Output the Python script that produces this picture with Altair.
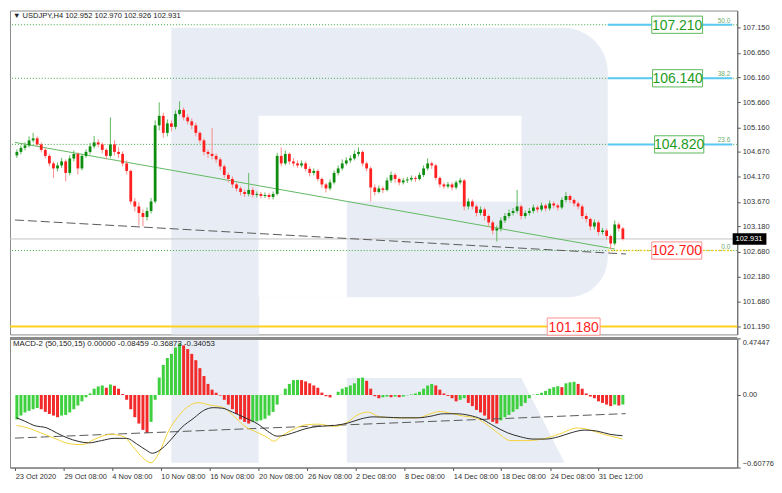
import json
import altair as alt
import pandas as pd

# ---------------- data ----------------
first_open = 104.60
closes = [
    104.67, 104.75, 104.80, 104.90, 104.94, 104.82, 104.71, 104.59, 104.44, 104.34,
    104.40, 104.48, 104.25, 104.54, 104.63, 104.34, 104.59, 104.67, 104.78, 104.86,
    104.82, 104.71, 104.59, 104.82, 104.67, 104.63, 104.44, 104.29, 103.68, 103.58,
    103.45, 103.37, 103.49, 103.68, 105.20, 105.39, 105.05, 105.24, 105.17, 105.43,
    105.51, 105.36, 105.28, 105.20, 105.05, 104.90, 104.67, 104.63, 104.59, 104.52,
    104.38, 104.21, 104.13, 104.02, 103.94, 103.87, 103.83, 103.91, 103.81, 103.83,
    103.79, 103.81, 103.77, 103.83, 104.59, 104.44, 104.63, 104.48, 104.44, 104.40,
    104.44, 104.33, 104.25, 104.29, 104.13, 104.02, 103.94, 104.06, 104.25, 104.34,
    104.44, 104.50, 104.54, 104.63, 104.67, 104.44, 104.34, 103.96, 103.87, 103.94,
    103.91, 104.10, 104.21, 104.13, 104.06, 104.10, 104.12, 104.15, 104.13, 104.21,
    104.34, 104.44, 104.40, 104.15, 104.02, 103.98, 104.02, 103.96, 104.06, 104.10,
    103.58, 103.68, 103.58, 103.45, 103.52, 103.39, 103.26, 103.10, 103.14, 103.30,
    103.39, 103.45, 103.49, 103.58, 103.39, 103.45, 103.49, 103.56, 103.52, 103.60,
    103.54, 103.64, 103.60, 103.56, 103.71, 103.79, 103.71, 103.64, 103.58, 103.39,
    103.33, 103.18, 103.26, 103.07, 103.10, 102.99, 102.84, 103.22, 103.14, 102.931,
]
highs = [
    104.72, 104.80, 104.86, 104.98, 105.05, 104.98, 104.86, 104.75, 104.63, 104.48,
    104.46, 104.55, 104.52, 104.60, 104.70, 104.66, 104.63, 104.72, 104.85, 104.99,
    104.92, 104.86, 104.74, 105.36, 104.90, 104.76, 104.68, 104.50, 104.32, 103.75,
    103.66, 103.52, 103.56, 103.75, 105.30, 105.66, 105.45, 105.32, 105.30, 105.50,
    105.68, 105.56, 105.42, 105.34, 105.25, 105.08, 104.94, 104.72, 105.15, 104.64,
    104.56, 104.42, 104.26, 104.18, 104.06, 103.98, 103.92, 104.25, 103.96, 103.88,
    103.87, 103.86, 103.85, 103.88, 104.65, 104.76, 104.70, 104.66, 104.55, 104.50,
    104.50, 104.48, 104.38, 104.34, 104.32, 104.16, 104.05, 104.12, 104.30, 104.40,
    104.52, 104.56, 104.60, 104.70, 104.76, 104.70, 104.48, 104.38, 104.02, 104.00,
    103.98, 104.16, 104.28, 104.25, 104.16, 104.15, 104.17, 104.20, 104.19, 104.26,
    104.40, 104.54, 104.48, 104.43, 104.18, 104.06, 104.07, 104.06, 104.10, 104.15,
    104.13, 103.74, 103.72, 103.62, 103.58, 103.56, 103.42, 103.30, 103.20, 103.36,
    103.45, 103.52, 103.55, 103.91, 103.62, 103.50, 103.55, 103.62, 103.60, 103.66,
    103.64, 103.70, 103.68, 103.64, 103.76, 103.87, 103.82, 103.74, 103.68, 103.62,
    103.44, 103.36, 103.32, 103.30, 103.15, 103.14, 103.02, 103.30, 103.26, 103.17,
]
lows = [
    104.55, 104.62, 104.70, 104.76, 104.86, 104.78, 104.66, 104.54, 104.38, 104.15,
    104.28, 104.35, 104.08, 104.20, 104.48, 104.22, 104.30, 104.55, 104.62, 104.74,
    104.76, 104.64, 104.52, 104.55, 104.60, 104.55, 104.38, 104.22, 103.62, 103.48,
    103.20, 103.18, 103.30, 103.44, 103.64, 105.10, 104.95, 104.98, 105.08, 105.12,
    105.40, 105.30, 105.22, 105.12, 104.98, 104.84, 104.60, 104.55, 104.52, 104.45,
    104.30, 104.15, 104.06, 103.95, 103.88, 103.80, 103.77, 103.78, 103.76, 103.76,
    103.74, 103.75, 103.72, 103.72, 103.80, 104.38, 104.40, 104.42, 104.38, 104.35,
    104.36, 104.28, 104.18, 104.20, 104.08, 103.95, 103.86, 103.90, 104.02, 104.20,
    104.30, 104.40, 104.45, 104.50, 104.58, 104.38, 104.28, 103.68, 103.80, 103.84,
    103.85, 103.88, 104.05, 104.06, 104.00, 104.02, 104.05, 104.08, 104.07, 104.10,
    104.17, 104.30, 104.33, 104.10, 103.96, 103.93, 103.94, 103.90, 103.92, 104.02,
    103.50, 103.52, 103.52, 103.38, 103.40, 103.30, 103.18, 103.02, 102.88, 103.08,
    103.25, 103.34, 103.40, 103.44, 103.32, 103.34, 103.40, 103.44, 103.46, 103.48,
    103.48, 103.50, 103.54, 103.50, 103.52, 103.66, 103.65, 103.58, 103.52, 103.33,
    103.26, 103.10, 103.12, 103.00, 103.02, 102.92, 102.72, 102.80, 103.08, 102.90,
]
macd_hist = [
    -0.204, -0.172, -0.146, -0.133, -0.119, -0.109, -0.119, -0.141, -0.159, -0.172,
    -0.186, -0.172, -0.167, -0.146, -0.119, -0.088, -0.053, -0.019, 0.013, 0.053,
    0.072, 0.080, 0.061, 0.088, 0.077, 0.053, 0.008, -0.040, -0.119, -0.186,
    -0.239, -0.292, -0.318, -0.225, -0.040, 0.146, 0.252, 0.310, 0.345, 0.398,
    0.432, 0.416, 0.385, 0.345, 0.292, 0.225, 0.159, 0.093, 0.045, 0.019,
    -0.005, -0.040, -0.080, -0.119, -0.159, -0.204, -0.225, -0.239, -0.225, -0.220,
    -0.212, -0.199, -0.172, -0.141, -0.080, 0.002, 0.053, 0.093, 0.125, 0.127,
    0.125, 0.114, 0.098, 0.080, 0.061, 0.020, -0.010, -0.020, 0.000, 0.027,
    0.053, 0.066, 0.080, 0.098, 0.141, 0.146, 0.119, 0.053, -0.010, -0.027,
    -0.019, -0.013, -0.019, -0.013, -0.019, -0.013, -0.003, 0.005, 0.013, 0.027,
    0.053, 0.080, 0.093, 0.080, 0.045, 0.013, -0.008, -0.027, -0.053, -0.040,
    -0.027, -0.066, -0.093, -0.125, -0.146, -0.172, -0.204, -0.225, -0.239, -0.212,
    -0.186, -0.167, -0.141, -0.119, -0.093, -0.066, -0.027, 0.003, 0.008, 0.019,
    0.034, 0.053, 0.066, 0.074, 0.066, 0.098, 0.106, 0.111, 0.093, 0.053,
    0.013, -0.013, -0.027, -0.053, -0.066, -0.080, -0.093, -0.080, -0.088, -0.080,
]
macd_black_idx = [-0.1, 1.9, 4.2, 7.4, 9.7, 12.1, 15.3, 17.6, 20.8, 23.9, 27.0, 29.4, 31.8,
                  33.3, 35.7, 38.0, 40.4, 43.6, 45.9, 48.3, 50.6, 53.0, 56.1, 59.3, 61.6, 64.0,
                  66.3, 68.7, 71.1, 74.2, 78.1, 81.3, 84.4, 87.6, 90.7, 94.6, 98.6, 101.7,
                  104.9, 108.0, 111.2, 114.3, 117.5, 120.6, 123.8, 126.9, 130.0, 133.2, 136.3,
                  139.5, 142.6, 145.8, 148.9]
macd_black_val = [-0.191, -0.218, -0.255, -0.276, -0.316, -0.355, -0.390, -0.401, -0.382,
                  -0.363, -0.363, -0.408, -0.462, -0.488, -0.448, -0.369, -0.276, -0.191,
                  -0.130, -0.106, -0.111, -0.143, -0.191, -0.244, -0.302, -0.345, -0.334,
                  -0.308, -0.281, -0.263, -0.255, -0.236, -0.202, -0.183, -0.186, -0.191,
                  -0.191, -0.178, -0.157, -0.157, -0.170, -0.202, -0.263, -0.316, -0.350,
                  -0.369, -0.369, -0.350, -0.316, -0.294, -0.302, -0.329, -0.341]
macd_yellow_idx = [-0.1, 2.7, 5.8, 9.7, 12.9, 16.0, 19.2, 23.1, 26.3, 28.6, 31.0, 33.0, 34.9,
                   37.3, 39.6, 42.4, 44.7, 47.5, 50.6, 53.8, 56.1, 59.3, 61.6, 63.2, 64.8, 67.9,
                   71.1, 74.2, 78.1, 81.3, 83.6, 86.4, 89.2, 93.1, 98.6, 101.7, 104.1, 107.2,
                   109.6, 112.7, 115.1, 118.2, 121.4, 125.3, 129.2, 133.2, 137.9, 141.0, 144.2,
                   147.3, 148.9]
macd_yellow_val = [-0.255, -0.276, -0.316, -0.369, -0.408, -0.416, -0.369, -0.329, -0.350,
                   -0.435, -0.528, -0.568, -0.488, -0.302, -0.182, -0.090, -0.064, -0.085,
                   -0.103, -0.191, -0.263, -0.316, -0.355, -0.387, -0.350, -0.289, -0.249,
                   -0.244, -0.263, -0.228, -0.170, -0.143, -0.183, -0.191, -0.191, -0.157,
                   -0.138, -0.157, -0.175, -0.191, -0.236, -0.316, -0.382, -0.382, -0.369,
                   -0.329, -0.276, -0.294, -0.329, -0.355, -0.369]
macd_trend_idx = [-0.47, 149.7]
macd_trend_val = [-0.361, -0.156]

trend_green_idx = [-0.47, 147.0]
trend_green_price = [104.86, 102.73]
trend_gray_idx = [-0.47, 149.8]
trend_gray_price = [103.31, 102.63]

fib_levels = [107.21, 106.14, 104.82, 102.70]
fib_names = ["50.0", "38.2", "23.6", "0.0"]
support_level = 101.18
last_price = 102.931

box_labels = ["107.210", "106.140", "104.820", "102.700", "101.180"]
box_prices = [107.21, 106.14, 104.82, 102.70, 101.18]
box_kind = ["green", "green", "green", "red", "red"]

price_ticks = [107.15, 106.65, 106.16, 105.66, 105.16, 104.67, 104.17, 103.67, 103.18,
               102.68, 102.18, 101.68, 101.19]
macd_ticks = [0.47447, 0.0, -0.60776]
date_tick_idx = [-0.4, 11.56, 23.35, 35.38, 47.41, 59.43, 71.46, 83.25, 95.28, 107.31,
                 119.10, 131.13, 142.92]
date_tick_labels = ["23 Oct 2020", "29 Oct 08:00", "4 Nov 08:00", "10 Nov 08:00",
                    "16 Nov 08:00", "20 Nov 08:00", "26 Nov 08:00", "2 Dec 08:00",
                    "8 Dec 08:00", "14 Dec 08:00", "18 Dec 08:00", "24 Dec 08:00",
                    "31 Dec 12:00"]

header_text = "\u25bc USDJPY,H4  102.952 102.970 102.926 102.931"
macd_text = "MACD-2 (50,150,15) 0.00000 -0.08459 -0.36873 -0.34053"

# ---------------- layout / style ----------------
FONT = "Liberation Sans, Arial, sans-serif"
W, H1, H2 = 732, 326, 130
XMIN, XMAX = -0.47, 175.9
P_DOM = [101.024, 107.494]
M_DOM = [-0.60776, 0.47447]
WM = "#e8edf5"

xs = alt.Scale(domain=[XMIN, XMAX], nice=False, zero=False)
ps = alt.Scale(domain=P_DOM, nice=False, zero=False)
ms = alt.Scale(domain=M_DOM, nice=False, zero=False)

label_expr = f"{json.dumps(date_tick_labels)}[indexof({json.dumps(date_tick_idx)}, datum.value)]"
x_axis = alt.Axis(orient="bottom", values=date_tick_idx, labelExpr=label_expr, title=None,
                  grid=False, tickSize=3, labelAlign="left", labelPadding=2, labelFlush=False,
                  labelOverlap=False, labelBound=False, labelFontSize=7.5)
price_axis = alt.Axis(orient="right", values=price_ticks, format=".3f", title=None, grid=False,
                      tickSize=3, labelPadding=2, labelFontSize=7.5, labelOverlap=False)
macd_axis = alt.Axis(orient="right", values=macd_ticks, title=None, grid=False, tickSize=3,
                     labelPadding=2, labelFlush=True, labelFontSize=7.5, labelOverlap=False,
                     labelExpr="datum.value == 0 ? '0.00' : format(datum.value, '.5f')")

n = len(closes)
opens = [first_open] + closes[:-1]
candles = pd.DataFrame({"idx": list(range(n)), "open": opens, "high": highs,
                        "low": lows, "close": closes})
candles["dir"] = ["up" if c >= o else "down" for o, c in zip(opens, closes)]

hist = pd.DataFrame({"idx": list(range(n)), "h": macd_hist})
hist["dir"] = ["up" if i == 0 or h >= macd_hist[i - 1] else "down" for i, h in enumerate(macd_hist)]


def XP(field="idx"):
    return alt.X(f"{field}:Q", scale=xs, axis=None)


def XM(field="idx"):
    return alt.X(f"{field}:Q", scale=xs, axis=x_axis)


def YP(field):
    return alt.Y(f"{field}:Q", scale=ps, axis=price_axis)


def YM(field):
    return alt.Y(f"{field}:Q", scale=ms, axis=macd_axis)


# ---------- watermark (RoboForex "R"), in data units ----------
wm_stem = pd.DataFrame({"x": [37.97], "x2": [59.6], "y": [P_DOM[0]], "y2": [107.15]})
wm_bowl = pd.DataFrame({"x": [59.43], "x2": [145.28], "y": [101.768], "y2": [107.15]})
wm_holes = pd.DataFrame({"x": [59.43, 59.43], "x2": [124.06, 81.13],
                         "y": [103.677, 101.768], "y2": [105.394, 103.677]})
l_stem = alt.Chart(wm_stem).mark_rect(color=WM).encode(x=XP("x"), x2="x2", y=YP("y"), y2="y2")
l_bowl = alt.Chart(wm_bowl).mark_rect(color=WM, cornerRadiusTopRight=45,
                                      cornerRadiusBottomRight=40).encode(
    x=XP("x"), x2="x2", y=YP("y"), y2="y2")
l_holes = alt.Chart(wm_holes).mark_rect(color="white").encode(x=XP("x"), x2="x2", y=YP("y"), y2="y2")

# ---------- horizontal levels ----------
fib_df = pd.DataFrame({"p": fib_levels, "name": fib_names})
l_fib = alt.Chart(fib_df).mark_rule(color="#3aa63a", strokeDash=[1, 2], strokeWidth=1).encode(y=YP("p"))
l_support = alt.Chart(pd.DataFrame({"p": [support_level]})).mark_rule(
    color="#ffd21f", strokeWidth=2).encode(y=YP("p"))
l_last = alt.Chart(pd.DataFrame({"p": [last_price]})).mark_rule(
    color="#c4c4c4", strokeWidth=1).encode(y=YP("p"))

seg_df = pd.DataFrame({"x": [145.28] * 3, "x2": [XMAX] * 3, "p": fib_levels[:3]})
l_cyan = alt.Chart(seg_df).mark_rule(color="#59c8f2", strokeWidth=2).encode(
    x=XP("x"), x2="x2", y=YP("p"))
l_zero = alt.Chart(pd.DataFrame({"x": [145.28], "x2": [XMAX], "p": [fib_levels[3]]})).mark_rule(
    color="#f2d21b", strokeWidth=1.5, strokeDash=[2, 2]).encode(x=XP("x"), x2="x2", y=YP("p"))

# ---------- trend lines ----------
tg = pd.DataFrame({"idx": trend_green_idx, "p": trend_green_price})
tr = pd.DataFrame({"idx": trend_gray_idx, "p": trend_gray_price})
l_tg = alt.Chart(tg).mark_line(color="#62b862", strokeWidth=1).encode(x=XP(), y=YP("p"))
l_tr = alt.Chart(tr).mark_line(color="#5a5a5a", strokeWidth=1, strokeDash=[9, 4]).encode(x=XP(), y=YP("p"))

# ---------- candles ----------
l_wick = alt.Chart(candles).mark_rule(strokeWidth=1).encode(
    x=XP(), y=YP("low"), y2="high:Q",
    color=alt.condition("datum.dir == 'up'", alt.value("#5fb85f"), alt.value("#ff8a8a")),
)
l_body = alt.Chart(candles).mark_bar(size=2.8).encode(
    x=XP(), y=YP("open"), y2="close:Q",
    color=alt.condition("datum.dir == 'up'", alt.value("#0e8c0e"), alt.value("#ff1f1f")),
)

# ---------- labelled boxes ----------
box_df = pd.DataFrame({"label": box_labels, "p": box_prices, "kind": box_kind})
box_df["x"] = [156.1, 156.3, 156.8, 156.1, 130.4]
box_df["x2"] = [168.6, 168.6, 168.9, 168.4, 143.4]
box_df["xc"] = (box_df["x"] + box_df["x2"]) / 2
box_df["y"] = box_df["p"] - 0.172
box_df["y2"] = box_df["p"] + 0.172
g_box = box_df[box_df.kind == "green"]
r_box = box_df[box_df.kind == "red"]
l_gbox = alt.Chart(g_box).mark_rect(fill="white", stroke="#5cb85c", strokeWidth=1).encode(
    x=XP("x"), x2="x2", y=YP("y"), y2="y2")
l_rbox = alt.Chart(r_box).mark_rect(fill="white", stroke="#ff9090", strokeWidth=1).encode(
    x=XP("x"), x2="x2", y=YP("y"), y2="y2")
l_gtxt = alt.Chart(g_box).mark_text(font=FONT, fontSize=14, color="#1e9b1e", baseline="middle",
                                    dy=1).encode(x=XP("xc"), y=YP("p"), text="label:N")
l_rtxt = alt.Chart(r_box).mark_text(font=FONT, fontSize=14, color="#ff1a1a", baseline="middle",
                                    dy=1).encode(x=XP("xc"), y=YP("p"), text="label:N")

l_fibtxt = alt.Chart(fib_df.assign(x=[175.4] * 4)).mark_text(
    font=FONT, fontSize=6.5, color="#6aad6a", align="right", baseline="bottom", dy=-1).encode(
    x=XP("x"), y=YP("p"), text="name:N")

l_header = alt.Chart(pd.DataFrame({"t": [header_text]})).mark_text(
    font=FONT, fontSize=7.6, color="#222", align="left", baseline="middle").encode(
    x=alt.value(3), y=alt.value(6), text="t:N")

lp_df = pd.DataFrame({"x": [176.0], "x2": [184.3], "xt": [176.7], "y": [last_price - 0.115],
                      "y2": [last_price + 0.115], "p": [last_price], "t": [f"{last_price:.3f}"]})
l_lpbox = alt.Chart(lp_df).mark_rect(color="black").encode(x=XP("x"), x2="x2", y=YP("y"), y2="y2")
l_lptxt = alt.Chart(lp_df).mark_text(font=FONT, fontSize=7.5, color="white", align="left",
                                     baseline="middle").encode(x=XP("xt"), y=YP("p"), text="t:N")

price_panel = alt.layer(
    l_stem, l_bowl, l_holes, l_fib, l_support, l_last, l_cyan, l_zero, l_tg, l_tr,
    l_wick, l_body, l_gbox, l_rbox, l_gtxt, l_rtxt, l_fibtxt, l_header, l_lpbox, l_lptxt,
).properties(width=W, height=H1)

# ---------------- MACD panel ----------------
m_stem = pd.DataFrame({"x": [37.97], "x2": [59.43], "y": [-0.568], "y2": [M_DOM[1]]})
m_leg = pd.DataFrame({"y": [0.1427, -0.568], "x": [81.13, 81.13], "x2": [124.06, 134.67]})
lm_stem = alt.Chart(m_stem).mark_rect(color=WM).encode(x=XM("x"), x2="x2", y=YM("y"), y2="y2")
lm_leg = alt.Chart(m_leg).mark_area(color=WM, orient="horizontal").encode(
    y=YM("y"), x=XM("x"), x2="x2")

lm_hist = alt.Chart(hist).mark_bar(size=3).encode(
    x=XM(), y=YM("h"), y2=alt.datum(0),
    color=alt.condition("datum.dir == 'up'", alt.value("#3fd03f"), alt.value("#f22a2a")),
)
lm_trend = alt.Chart(pd.DataFrame({"idx": macd_trend_idx, "v": macd_trend_val})).mark_line(
    color="#5a5a5a", strokeWidth=1, strokeDash=[9, 4]).encode(x=XM(), y=YM("v"))
lm_yellow = alt.Chart(pd.DataFrame({"idx": macd_yellow_idx, "v": macd_yellow_val})).mark_line(
    color="#f5d33a", strokeWidth=1, interpolate="monotone").encode(x=XM(), y=YM("v"))
lm_black = alt.Chart(pd.DataFrame({"idx": macd_black_idx, "v": macd_black_val})).mark_line(
    color="#2b2b2b", strokeWidth=1, interpolate="monotone").encode(x=XM(), y=YM("v"))
lm_text = alt.Chart(pd.DataFrame({"t": [macd_text]})).mark_text(
    font=FONT, fontSize=7.9, color="#222", align="left", baseline="middle").encode(
    x=alt.value(3), y=alt.value(6), text="t:N")
lm_sep = alt.Chart(pd.DataFrame({"v": [M_DOM[1]]})).mark_rule(
    color="#8a8a8a", strokeWidth=3).encode(y=YM("v"))

macd_panel = alt.layer(lm_stem, lm_leg, lm_hist, lm_trend, lm_yellow, lm_black, lm_text,
                       lm_sep).properties(width=W, height=H2)

chart = alt.vconcat(price_panel, macd_panel, spacing=0).properties(
    padding=0
).configure_view(
    stroke="#8a8a8a", strokeWidth=1
).configure_axis(
    labelFont=FONT, labelColor="#333", tickColor="#555", domainColor="#666"
)

chart.save("out.html", embed_options={"renderer": "svg", "actions": False})
